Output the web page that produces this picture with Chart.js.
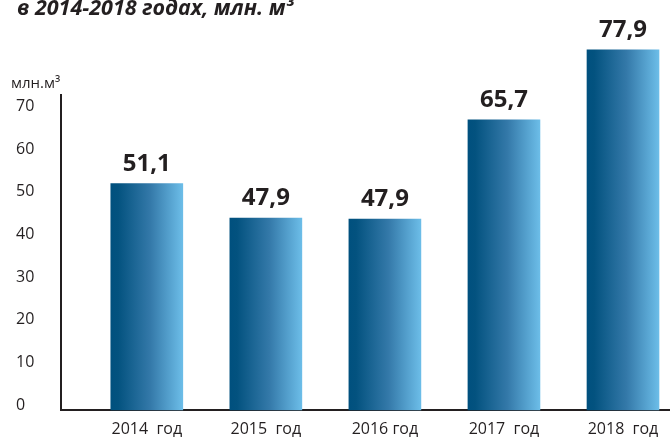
<!DOCTYPE html>
<html>
<head>
<meta charset="utf-8">
<script src="https://cdn.jsdelivr.net/npm/chart.js@4.4.0/dist/chart.umd.min.js"></script>
<style>
    html, body { margin: 0; padding: 0; background: #ffffff; }
    #wrap { width: 670px; height: 439px; }
</style>
</head>
<body>
<div id="wrap"><canvas id="myChart" width="670" height="439"></canvas></div>
<script>
var categories = ['2014\u00a0 год', '2015\u00a0 год', '2016 год', '2017\u00a0 год', '2018\u00a0 год'];
// figures printed above the bars
var values = [51.1, 47.9, 47.9, 65.7, 77.9];
// bar heights as drawn in the original, read against its own y axis
var barHeights = [53.1, 45.0, 44.8, 68.1, 84.5];
var yTicks = [0, 10, 20, 30, 40, 50, 60, 70];

var titleText = 'в 2014-2018 годах, млн. м³';
var unitText = 'млн.м³';
var textColor = '#231f20';
var barWidth = 72;

function barGradient(context)
{
    var chart = context.chart;
    var scale = chart.scales.x;

    if (!scale || context.dataIndex === undefined)
        return '#2f75a5';

    var cx = scale.getPixelForValue(context.dataIndex);
    if (!isFinite(cx))
        return '#2f75a5';

    var g = chart.ctx.createLinearGradient(cx - barWidth / 2, 0, cx + barWidth / 2, 0);
    g.addColorStop(0, '#00507e');
    g.addColorStop(0.1, '#03527f');
    g.addColorStop(0.55, '#3479a9');
    g.addColorStop(1, '#6cbde8');
    return g;
}

var textPlugin = {
    id: 'extraText',
    afterDatasetsDraw: function (chart)
    {
        var ctx = chart.ctx;
        var meta = chart.getDatasetMeta(0);

        ctx.save();
        ctx.fillStyle = textColor;
        ctx.font = 'bold 24px "Open Sans"';
        ctx.textAlign = 'center';
        ctx.textBaseline = 'alphabetic';
        meta.data.forEach(function (bar, i) {
            ctx.fillText(values[i].toFixed(1).replace('.', ','), bar.x, bar.y - 13);
        });

        ctx.textAlign = 'left';
        ctx.font = 'italic bold 21.5px "Open Sans"';
        ctx.fillText(titleText, 17, 15);

        ctx.font = '15px "Open Sans"';
        ctx.fillText(unitText, 11, 88);
        ctx.restore();
    }
};

function genGraph()
{
    var ctx = document.getElementById('myChart').getContext('2d');
    var tickFont = {family: 'Open Sans', size: 16};

    new Chart(ctx, {
        type: 'bar',
        data: {
            datasets: [{
                data: barHeights.map(function (v, i) { return {x: i, y: v}; }),
                backgroundColor: barGradient,
                borderWidth: 0,
                barThickness: barWidth,
                clip: false
            }]
        },
        options: {
            responsive: false,
            animation: false,
            layout: {
                autoPadding: false,
                padding: {left: 16, top: 95, right: 0, bottom: 0}
            },
            plugins: {
                legend: {display: false},
                tooltip: {enabled: false}
            },
            scales: {
                x: {
                    type: 'linear',
                    offset: false,
                    min: -0.7207,
                    max: 4.3948,
                    grid: {display: false, drawTicks: false},
                    border: {display: true, color: textColor, width: 2},
                    afterBuildTicks: function (scale) {
                        scale.ticks = categories.map(function (c, i) { return {value: i}; });
                    },
                    afterFit: function (scale) { scale.height = 29; },
                    ticks: {
                        callback: function (v) { return categories[v]; },
                        font: tickFont,
                        color: textColor,
                        padding: 10,
                        maxRotation: 0,
                        autoSkip: false
                    }
                },
                y: {
                    min: 0,
                    max: 73.9,
                    grid: {display: false, drawTicks: false},
                    border: {display: true, color: textColor, width: 2},
                    afterBuildTicks: function (scale) {
                        scale.ticks = yTicks.map(function (v) { return {value: v}; });
                    },
                    afterFit: function (scale) { scale.width = 45; },
                    ticks: {
                        crossAlign: 'far',
                        labelOffset: -5,
                        padding: 0,
                        font: tickFont,
                        color: textColor
                    }
                }
            }
        },
        plugins: [textPlugin]
    });
}

Promise.all([
    document.fonts.load('16px "Open Sans"'),
    document.fonts.load('bold 24px "Open Sans"'),
    document.fonts.load('italic bold 21.5px "Open Sans"')
]).then(genGraph, genGraph);
</script>
</body>
</html>
